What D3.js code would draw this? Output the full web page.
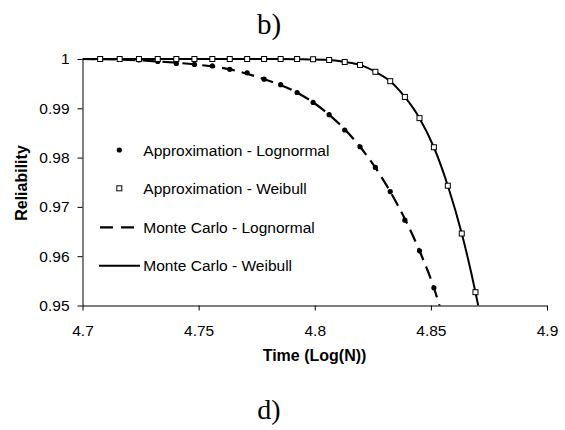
<!DOCTYPE html>
<html>
<head>
<meta charset="utf-8">
<script src="https://cdn.jsdelivr.net/npm/d3@7"></script>
<style>
  html, body { margin: 0; padding: 0; background: #fff; }
  svg { display: block; }
  text { font-family: "Liberation Sans", Arial, sans-serif; fill: #000; }
</style>
</head>
<body>
<svg id="chart" width="565" height="430"></svg>
<script>
// ---- data ----
const xTicks = [4.7, 4.75, 4.8, 4.85, 4.9];
const xTickLabels = ["4.7", "4.75", "4.8", "4.85", "4.9"];
const yTicks = [0.95, 0.96, 0.97, 0.98, 0.99, 1.0];
const yTickLabels = ["0.95", "0.96", "0.97", "0.98", "0.99", "1"];

// log10(N) positions of the approximation points
const approxX = [4.7076, 4.7160, 4.7243, 4.7324, 4.7404, 4.7482, 4.7559, 4.7634,
                 4.7709, 4.7782, 4.7853, 4.7924, 4.7993, 4.8062, 4.8129, 4.8195,
                 4.8261, 4.8325, 4.8388, 4.8451, 4.8513, 4.8573, 4.8633, 4.8692];
const approxLognormal = [1.0000, 1.0000, 0.9998, 0.9995, 0.9991, 0.9989, 0.9986, 0.9979,
                         0.9972, 0.9959, 0.9948, 0.9932, 0.9912, 0.9887, 0.9856, 0.9822,
                         0.9780, 0.9731, 0.9673, 0.9611, 0.9536, null, null, null];
const approxWeibull = [1.0000, 1.0000, 1.0000, 1.0000, 1.0000, 1.0000, 1.0000, 1.0000,
                       1.0000, 1.0000, 1.0000, 1.0000, 0.99995, 0.9998, 0.9994, 0.9988,
                       0.9974, 0.9955, 0.9923, 0.9880, 0.9821, 0.9743, 0.9646, 0.9527];

// Monte Carlo curves
const mcLognormalX = [4.7000, 4.7160, 4.7324, 4.7482, 4.7634, 4.7782, 4.7924, 4.8062,
                      4.8195, 4.8325, 4.8451, 4.8513, 4.8540];
const mcLognormalR = [1.0000, 0.9999, 0.9995, 0.9989, 0.9979, 0.9959, 0.9932, 0.9887,
                      0.9822, 0.9731, 0.9611, 0.9536, 0.9495];
const mcWeibullX = [4.7000, 4.7404, 4.7782, 4.7924, 4.8062, 4.8129, 4.8195, 4.8261,
                    4.8325, 4.8388, 4.8451, 4.8513, 4.8573, 4.8633, 4.8692, 4.8706];
const mcWeibullR = [1.0000, 1.0000, 1.0000, 0.99995, 0.9998, 0.9994, 0.9988, 0.9974,
                    0.9955, 0.9923, 0.9880, 0.9821, 0.9743, 0.9646, 0.9527, 0.9495];

const legendLabels = ["Approximation - Lognormal", "Approximation - Weibull",
                      "Monte Carlo - Lognormal", "Monte Carlo - Weibull"];

// ---- drawing ----
const svg = d3.select("#chart");
const x = d3.scaleLinear().domain([4.7, 4.9]).range([82.5, 547]);
const y = d3.scaleLinear().domain([0.95, 1.0]).range([305.5, 59]);
const FS = "15.5px";

svg.append("defs").append("clipPath").attr("id", "plotclip")
  .append("rect").attr("x", x(4.7)).attr("y", y(1) - 10)
  .attr("width", x(4.9) - x(4.7)).attr("height", y(0.95) - y(1) + 10);

// axes
const xAxis = svg.append("g").attr("transform", `translate(0,${y(0.95)})`)
  .call(d3.axisBottom(x).tickValues(xTicks).tickSize(5).tickSizeOuter(0).tickPadding(14)
        .tickFormat((d, i) => xTickLabels[i]));
const yAxis = svg.append("g").attr("transform", `translate(${x(4.7)},0)`)
  .call(d3.axisLeft(y).tickValues(yTicks).tickSize(5).tickSizeOuter(0).tickPadding(8)
        .tickFormat((d, i) => yTickLabels[i]));
[xAxis, yAxis].forEach(g => {
  g.selectAll("text").style("font-size", FS).style("font-family", '"Liberation Sans", Arial, sans-serif').attr("fill", "#000");
  g.selectAll("line").attr("stroke", "#000");
  g.select(".domain").attr("stroke", "#000");
});

// axis titles
svg.append("text").attr("x", 314.5).attr("y", 361).attr("text-anchor", "middle")
  .style("font-size", "16px").style("font-weight", "bold").text("Time (Log(N))");
svg.append("text").attr("transform", "translate(27,183) rotate(-90)").attr("text-anchor", "middle")
  .style("font-size", "16px").style("font-weight", "bold").text("Reliability");

// panel labels
svg.append("text").attr("x", 269).attr("y", 34).attr("text-anchor", "middle")
  .style("font-family", '"Liberation Serif", "Times New Roman", serif').style("font-size", "29px").text("b)");
svg.append("text").attr("x", 269).attr("y", 419).attr("text-anchor", "middle")
  .style("font-family", '"Liberation Serif", "Times New Roman", serif').style("font-size", "28px").text("d)");

const plot = svg.append("g").attr("clip-path", "url(#plotclip)");

plot.append("path").datum(mcLognormalX.map((v, i) => [v, mcLognormalR[i]]))
  .attr("d", d3.line().x(d => x(d[0])).y(d => y(d[1])).curve(d3.curveMonotoneX))
  .attr("fill", "none").attr("stroke", "#000").attr("stroke-width", 2.2)
  .attr("stroke-dasharray", "13,7");
plot.append("path").datum(mcWeibullX.map((v, i) => [v, mcWeibullR[i]]))
  .attr("d", d3.line().x(d => x(d[0])).y(d => y(d[1])).curve(d3.curveMonotoneX))
  .attr("fill", "none").attr("stroke", "#000").attr("stroke-width", 2);

const lnPts = approxX.map((v, i) => [v, approxLognormal[i]]).filter(d => d[1] !== null);
plot.selectAll("circle.ln").data(lnPts).enter().append("circle")
  .attr("cx", d => x(d[0])).attr("cy", d => y(d[1])).attr("r", 2.6).attr("fill", "#000");
const wbPts = approxX.map((v, i) => [v, approxWeibull[i]]);
plot.selectAll("rect.wb").data(wbPts).enter().append("rect")
  .attr("x", d => x(d[0]) - 2.5).attr("y", d => y(d[1]) - 2.5).attr("width", 5).attr("height", 5)
  .attr("fill", "#fff").attr("stroke", "#000").attr("stroke-width", 1);

// legend
const lg = svg.append("g");
const rows = [150, 188.3, 227.3, 265.7];
lg.append("circle").attr("cx", 119.3).attr("cy", rows[0]).attr("r", 2.6).attr("fill", "#000");
lg.append("rect").attr("x", 116.8).attr("y", rows[1] - 2.5).attr("width", 5).attr("height", 5)
  .attr("fill", "#fff").attr("stroke", "#000");
lg.append("line").attr("x1", 100).attr("x2", 137).attr("y1", rows[2]).attr("y2", rows[2])
  .attr("stroke", "#000").attr("stroke-width", 2.2).attr("stroke-dasharray", "13,8");
lg.append("line").attr("x1", 99).attr("x2", 140).attr("y1", rows[3]).attr("y2", rows[3])
  .attr("stroke", "#000").attr("stroke-width", 2);
legendLabels.forEach((t, i) => {
  lg.append("text").attr("x", 143.3).attr("y", rows[i] + 5.5).style("font-size", FS).text(t);
});
</script>
</body>
</html>
